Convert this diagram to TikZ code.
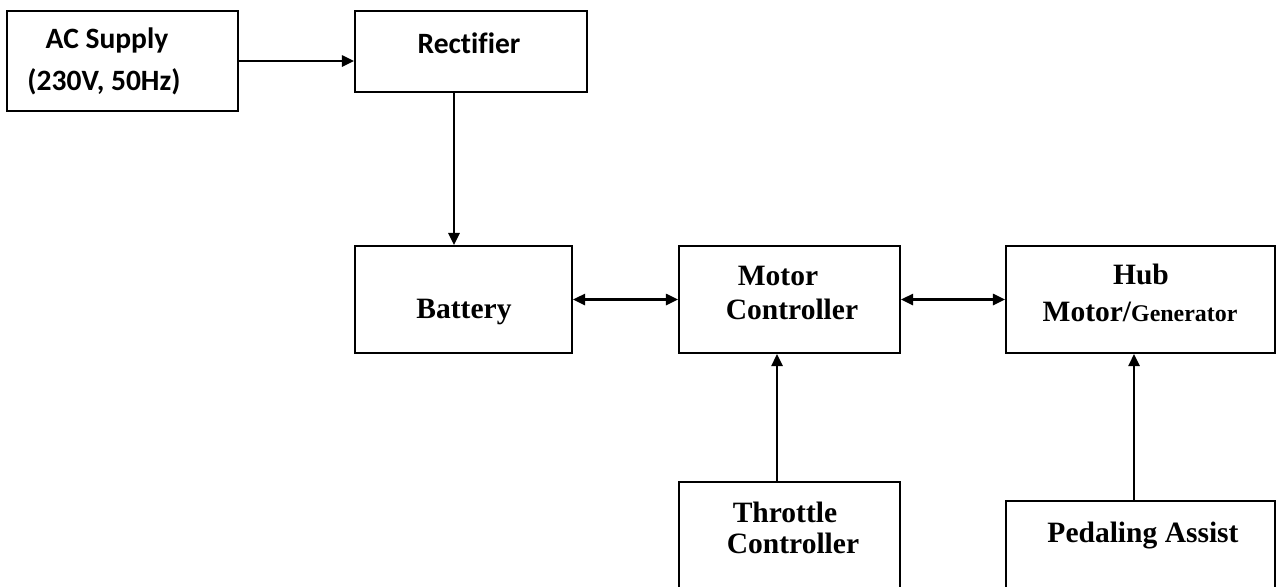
\documentclass[tikz,border=0pt]{standalone}
\usepackage{fontspec}
\setmainfont{Liberation Serif}
\newfontfamily\calibri[Ligatures=NoCommon]{Carlito}
\usetikzlibrary{arrows.meta}

\begin{document}
\begin{tikzpicture}[
  box/.style={draw, line width=1.5pt, inner sep=0pt},
  lblsans/.style={font=\calibri\bfseries\fontsize{21}{25}\selectfont, anchor=base, inner sep=0pt},
  lblserif/.style={font=\bfseries\fontsize{21}{25}\selectfont, anchor=base, inner sep=0pt},
  arr/.style={line width=1.5pt, -{Triangle[length=3mm, width=2.8mm]}},
  dblarr/.style={line width=1.5pt, {Triangle[length=3mm, width=2.8mm]}-{Triangle[length=3mm, width=2.8mm]}}
]
\useasboundingbox (0,0) rectangle (31.9,-14.65);

% Draw the boxes
\node[box, minimum width=5.775cm, minimum height=2.5cm] (ac) at (3.0625,-1.525) {};
\node[box, minimum width=5.8cm, minimum height=2.025cm] (rect) at (11.775,-1.2875) {};
\node[box, minimum width=5.425cm, minimum height=2.675cm] (bat) at (11.5875,-7.4875) {};
\node[box, minimum width=5.525cm, minimum height=2.675cm] (mc) at (19.7375,-7.4875) {};
\node[box, minimum width=6.725cm, minimum height=2.675cm] (hub) at (28.5125,-7.4875) {};
\node[box, minimum width=5.525cm, minimum height=3.45cm] (thr) at (19.7375,-13.775) {};
\node[box, minimum width=6.725cm, minimum height=3.475cm] (ped) at (28.5125,-14.2625) {};

% Box texts
\node[lblsans] (acA) at (2.675,-1.2) {AC Supply};
\node[lblsans] (acB) at (2.6,-2.25) {(230V, 50Hz)};
\node[lblsans] (rectA) at (11.725,-1.325) {Rectifier};
\node[lblserif] (batA) at (11.6,-7.95) {Battery};
\node[lblserif] (mcA) at (19.45,-7.125) {Motor};
\node[lblserif] (mcB) at (19.8,-7.975) {Controller};
\node[lblserif] (hubA) at (28.525,-7.1) {Hub};
\node[lblserif] (hubB) at (28.5,-8.025) {Motor/{\fontsize{17}{19}\selectfont Generator}};
\node[lblserif] (thrA) at (19.625,-13.05) {Throttle};
\node[lblserif] (thrB) at (19.825,-13.825) {Controller};
\node[lblserif] (pedA) at (28.575,-13.55) {Pedaling Assist};

% Draw the arrows
\draw[arr] (ac.east) -- (ac.east -| rect.west);
\draw[arr] ([xshift=-0.425cm]rect.south) -- ([xshift=-0.425cm]rect.south |- bat.north);
\draw[dblarr] (bat.east) -- (mc.west);
\draw[dblarr] (mc.east) -- (hub.west);
\draw[arr] ([xshift=-0.3125cm]thr.north) -- ([xshift=-0.3125cm]thr.north |- mc.south);
\draw[arr] ([xshift=-0.1625cm]ped.north) -- ([xshift=-0.1625cm]ped.north |- hub.south);

\end{tikzpicture}
\end{document}
